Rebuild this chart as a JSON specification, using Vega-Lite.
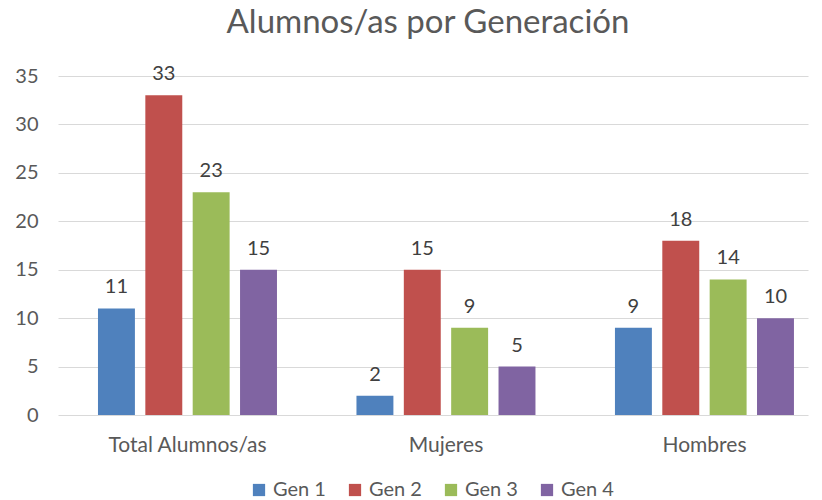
{
  "$schema": "https://vega.github.io/schema/vega-lite/v6.json",
  "width": 750,
  "height": 339,
  "autosize": {"type": "none"},
  "padding": {"left": 58, "top": 76, "right": 14, "bottom": 85},
  "background": "white",
  "title": {
    "text": "Alumnos/as por Generación",
    "font": "Lato",
    "fontSize": 33,
    "fontWeight": "normal",
    "color": "#595959",
    "anchor": "middle",
    "offset": 24,
    "dx": -5
  },
  "data": {
    "values": [
      {"grupo": "Total Alumnos/as", "gen": "Gen 1", "valor": 11},
      {"grupo": "Total Alumnos/as", "gen": "Gen 2", "valor": 33},
      {"grupo": "Total Alumnos/as", "gen": "Gen 3", "valor": 23},
      {"grupo": "Total Alumnos/as", "gen": "Gen 4", "valor": 15},
      {"grupo": "Mujeres", "gen": "Gen 1", "valor": 2},
      {"grupo": "Mujeres", "gen": "Gen 2", "valor": 15},
      {"grupo": "Mujeres", "gen": "Gen 3", "valor": 9},
      {"grupo": "Mujeres", "gen": "Gen 4", "valor": 5},
      {"grupo": "Hombres", "gen": "Gen 1", "valor": 9},
      {"grupo": "Hombres", "gen": "Gen 2", "valor": 18},
      {"grupo": "Hombres", "gen": "Gen 3", "valor": 14},
      {"grupo": "Hombres", "gen": "Gen 4", "valor": 10}
    ]
  },
  "encoding": {
    "x": {
      "field": "grupo",
      "type": "nominal",
      "sort": ["Total Alumnos/as", "Mujeres", "Hombres"],
      "scale": {"paddingInner": 0.3075, "paddingOuter": 0.1045, "align": 0.74},
      "axis": {
        "title": null,
        "labelAngle": 0,
        "labelFont": "Lato",
        "labelFontSize": 21,
        "labelColor": "#595959",
        "labelPadding": 19,
        "domain": false,
        "ticks": false
      }
    },
    "xOffset": {
      "field": "gen",
      "type": "nominal",
      "scale": {"paddingInner": 0.22}
    },
    "y": {
      "field": "valor",
      "type": "quantitative",
      "scale": {"domain": [0, 35]},
      "axis": {
        "title": null,
        "values": [0, 5, 10, 15, 20, 25, 30, 35],
        "labelFont": "Lato",
        "labelFontSize": 20,
        "labelColor": "#595959",
        "labelPadding": 20,
        "domain": false,
        "ticks": false,
        "gridColor": "#d9d9d9",
        "gridWidth": 1
      }
    },
    "color": {
      "field": "gen",
      "type": "nominal",
      "scale": {
        "domain": ["Gen 1", "Gen 2", "Gen 3", "Gen 4"],
        "range": ["#4F81BD", "#C0504D", "#9BBB59", "#8064A2"]
      },
      "legend": {
        "title": null,
        "orient": "none",
        "direction": "horizontal",
        "legendX": 191,
        "legendY": 404,
        "symbolType": "square",
        "symbolSize": 150,
        "symbolStrokeWidth": 0,
        "labelFont": "Lato",
        "labelFontSize": 20,
        "labelColor": "#595959",
        "columnPadding": 19,
        "labelOffset": 4
      }
    }
  },
  "layer": [
    {"mark": {"type": "bar"}},
    {
      "mark": {
        "type": "text",
        "dy": -21,
        "font": "Lato",
        "fontSize": 20,
        "color": "#404040"
      },
      "encoding": {
        "text": {"field": "valor", "type": "quantitative"},
        "color": {"value": "#404040"}
      }
    }
  ],
  "config": {"view": {"stroke": null}}
}
